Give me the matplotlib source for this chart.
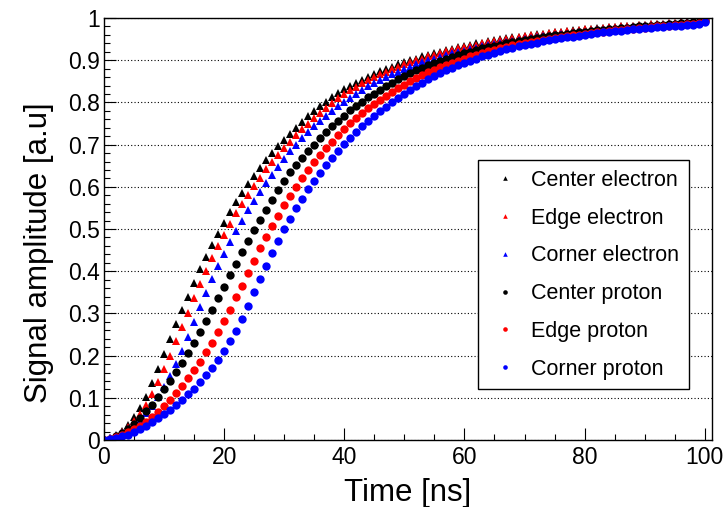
import matplotlib.pyplot as plt
from matplotlib.ticker import MultipleLocator, FuncFormatter

# sample times (ns) and normalised signal amplitudes
time_ns = list(range(0, 101))

center_electron = [
    0.000, 0.004, 0.012, 0.022, 0.036, 0.054, 0.077, 0.103, 0.135, 0.169,
    0.204, 0.239, 0.274, 0.307, 0.340, 0.373, 0.405, 0.434, 0.461, 0.489,
    0.515, 0.540, 0.563, 0.585, 0.606, 0.626, 0.645, 0.663, 0.680, 0.696,
    0.711, 0.726, 0.740, 0.754, 0.767, 0.779, 0.791, 0.802, 0.812, 0.822,
    0.831, 0.839, 0.847, 0.854, 0.861, 0.868, 0.874, 0.880, 0.885, 0.890,
    0.895, 0.900, 0.904, 0.909, 0.913, 0.917, 0.920, 0.924, 0.927, 0.931,
    0.934, 0.937, 0.940, 0.942, 0.945, 0.947, 0.950, 0.952, 0.954, 0.956,
    0.958, 0.960, 0.962, 0.963, 0.965, 0.967, 0.968, 0.970, 0.971, 0.972,
    0.974, 0.975, 0.976, 0.977, 0.978, 0.979, 0.980, 0.981, 0.982, 0.983,
    0.984, 0.985, 0.986, 0.987, 0.988, 0.989, 0.990, 0.991, 0.992, 0.993,
    0.995]

edge_electron = [
    0.000, 0.004, 0.010, 0.019, 0.030, 0.044, 0.062, 0.084, 0.109, 0.137,
    0.168, 0.200, 0.234, 0.268, 0.302, 0.336, 0.369, 0.401, 0.431, 0.460,
    0.487, 0.513, 0.537, 0.559, 0.580, 0.601, 0.622, 0.642, 0.660, 0.676,
    0.692, 0.707, 0.722, 0.736, 0.750, 0.763, 0.776, 0.788, 0.799, 0.810,
    0.820, 0.829, 0.837, 0.845, 0.853, 0.860, 0.867, 0.873, 0.879, 0.885,
    0.890, 0.895, 0.900, 0.904, 0.909, 0.913, 0.917, 0.921, 0.924, 0.928,
    0.931, 0.934, 0.937, 0.940, 0.943, 0.945, 0.948, 0.950, 0.952, 0.955,
    0.957, 0.959, 0.960, 0.962, 0.964, 0.966, 0.967, 0.969, 0.970, 0.972,
    0.973, 0.974, 0.975, 0.977, 0.978, 0.979, 0.980, 0.981, 0.982, 0.983,
    0.984, 0.985, 0.986, 0.987, 0.988, 0.989, 0.990, 0.991, 0.992, 0.993,
    0.995]

corner_electron = [
    0.000, 0.004, 0.010, 0.017, 0.026, 0.036, 0.048, 0.063, 0.081, 0.102,
    0.126, 0.152, 0.180, 0.210, 0.243, 0.279, 0.315, 0.349, 0.382, 0.413,
    0.442, 0.469, 0.495, 0.520, 0.544, 0.566, 0.588, 0.609, 0.629, 0.648,
    0.666, 0.684, 0.700, 0.715, 0.729, 0.743, 0.756, 0.768, 0.780, 0.791,
    0.801, 0.811, 0.820, 0.829, 0.838, 0.846, 0.853, 0.860, 0.867, 0.873,
    0.879, 0.885, 0.890, 0.895, 0.900, 0.904, 0.908, 0.912, 0.916, 0.920,
    0.923, 0.927, 0.930, 0.933, 0.936, 0.939, 0.941, 0.944, 0.946, 0.948,
    0.951, 0.953, 0.955, 0.957, 0.958, 0.960, 0.962, 0.963, 0.965, 0.966,
    0.968, 0.969, 0.971, 0.972, 0.973, 0.974, 0.976, 0.977, 0.978, 0.979,
    0.980, 0.981, 0.982, 0.984, 0.985, 0.986, 0.987, 0.988, 0.989, 0.991,
    0.993]

center_proton = [
    0.000, 0.003, 0.009, 0.017, 0.027, 0.039, 0.053, 0.068, 0.084, 0.101,
    0.120, 0.140, 0.161, 0.183, 0.207, 0.231, 0.256, 0.281, 0.308, 0.336,
    0.363, 0.391, 0.418, 0.445, 0.472, 0.497, 0.521, 0.545, 0.569, 0.592,
    0.614, 0.634, 0.652, 0.669, 0.685, 0.700, 0.715, 0.729, 0.743, 0.756,
    0.769, 0.781, 0.792, 0.802, 0.812, 0.821, 0.830, 0.839, 0.847, 0.855,
    0.862, 0.869, 0.876, 0.882, 0.888, 0.893, 0.898, 0.903, 0.908, 0.912,
    0.916, 0.920, 0.924, 0.928, 0.931, 0.934, 0.937, 0.940, 0.943, 0.946,
    0.948, 0.951, 0.953, 0.955, 0.957, 0.959, 0.961, 0.963, 0.965, 0.966,
    0.968, 0.969, 0.971, 0.972, 0.974, 0.975, 0.976, 0.977, 0.979, 0.980,
    0.981, 0.982, 0.983, 0.984, 0.985, 0.986, 0.988, 0.989, 0.990, 0.991,
    0.995]

edge_proton = [
    0.000, 0.003, 0.007, 0.012, 0.019, 0.026, 0.034, 0.043, 0.055, 0.067,
    0.081, 0.095, 0.111, 0.128, 0.146, 0.166, 0.186, 0.208, 0.231, 0.256,
    0.282, 0.309, 0.338, 0.366, 0.395, 0.425, 0.454, 0.481, 0.507, 0.532,
    0.556, 0.579, 0.600, 0.621, 0.640, 0.658, 0.675, 0.692, 0.707, 0.722,
    0.737, 0.751, 0.764, 0.776, 0.786, 0.796, 0.806, 0.816, 0.825, 0.834,
    0.842, 0.850, 0.857, 0.864, 0.871, 0.877, 0.883, 0.889, 0.894, 0.899,
    0.904, 0.909, 0.913, 0.917, 0.921, 0.925, 0.928, 0.932, 0.935, 0.938,
    0.941, 0.943, 0.946, 0.948, 0.951, 0.953, 0.955, 0.957, 0.959, 0.961,
    0.963, 0.965, 0.966, 0.968, 0.969, 0.971, 0.972, 0.974, 0.975, 0.976,
    0.977, 0.979, 0.980, 0.981, 0.982, 0.983, 0.984, 0.986, 0.987, 0.988,
    0.992]

corner_proton = [
    0.000, 0.002, 0.005, 0.009, 0.013, 0.019, 0.026, 0.034, 0.043, 0.052,
    0.061, 0.072, 0.083, 0.095, 0.108, 0.122, 0.137, 0.154, 0.171, 0.190,
    0.211, 0.234, 0.259, 0.287, 0.318, 0.350, 0.381, 0.412, 0.443, 0.472,
    0.499, 0.524, 0.549, 0.572, 0.594, 0.614, 0.633, 0.651, 0.668, 0.685,
    0.701, 0.716, 0.730, 0.743, 0.756, 0.768, 0.779, 0.790, 0.801, 0.811,
    0.821, 0.830, 0.839, 0.847, 0.855, 0.862, 0.869, 0.876, 0.882, 0.888,
    0.894, 0.899, 0.904, 0.909, 0.913, 0.918, 0.922, 0.926, 0.929, 0.933,
    0.936, 0.939, 0.942, 0.945, 0.947, 0.950, 0.952, 0.954, 0.956, 0.958,
    0.960, 0.962, 0.964, 0.966, 0.967, 0.969, 0.970, 0.972, 0.973, 0.974,
    0.976, 0.977, 0.978, 0.979, 0.980, 0.981, 0.982, 0.983, 0.984, 0.985,
    0.990]

plt.rcParams['font.family'] = ['Liberation Sans', 'DejaVu Sans']

fig = plt.figure(figsize=(7.25, 5.07), dpi=100)
ax = fig.add_axes([0.1434, 0.1321, 0.8386, 0.8323])

series = [
    (center_electron, '^', 'black', 'Center electron'),
    (edge_electron, '^', 'red', 'Edge electron'),
    (corner_electron, '^', 'blue', 'Corner electron'),
    (center_proton, 'o', 'black', 'Center proton'),
    (edge_proton, 'o', 'red', 'Edge proton'),
    (corner_proton, 'o', 'blue', 'Corner proton'),
]
for vals, mk, col, lab in series:
    ax.plot(time_ns, vals, linestyle='none', marker=mk, color=col,
            markersize=6, markeredgewidth=0, label=lab)

ax.set_xlim(0, 101.2)
ax.set_ylim(0, 1)
ax.xaxis.set_major_locator(MultipleLocator(20))
ax.xaxis.set_minor_locator(MultipleLocator(5))
ax.yaxis.set_major_locator(MultipleLocator(0.1))
ax.yaxis.set_minor_locator(MultipleLocator(0.02))
ax.yaxis.set_major_formatter(FuncFormatter(lambda v, p: '%g' % round(v, 2)))

ax.yaxis.grid(True, which='major', linestyle=(0, (1, 2)), color='black', linewidth=0.8)
ax.tick_params(which='both', direction='in', top=False, right=False, labelsize=16.5)
ax.tick_params(which='major', length=8.5, width=0.8)
ax.tick_params(which='minor', length=4.3, width=0.8)
ax.tick_params(axis='y', pad=3)
ax.tick_params(axis='x', pad=4)
for sp in ax.spines.values():
    sp.set_linewidth(1.0)

ax.set_xlabel('Time [ns]', fontsize=22.5, labelpad=7)
ax.set_ylabel('Signal amplitude [a.u]', fontsize=22.5)
ax.yaxis.set_label_coords(-0.083, 0.445)

leg = ax.legend(loc='upper left', bbox_to_anchor=(0.615, 0.6635), fontsize=15.5,
                frameon=True, fancybox=False, edgecolor='black', framealpha=1,
                borderpad=0.45, labelspacing=0.78, handlelength=1.6,
                handletextpad=0.41, markerscale=0.55, borderaxespad=0)
leg.get_frame().set_linewidth(1.0)

plt.savefig('out.png', dpi=100)
